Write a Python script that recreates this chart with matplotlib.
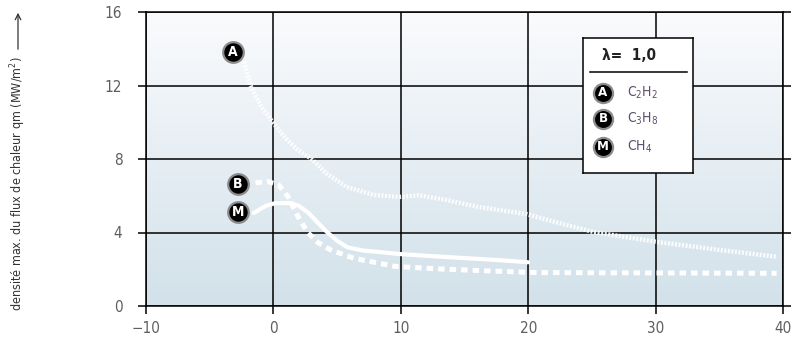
#!/usr/bin/env python3
"""Max heat flux density vs. x for C2H2, C3H8 and CH4 (lambda = 1,0)."""

import numpy as np
import matplotlib

matplotlib.use("Agg")
import matplotlib.pyplot as plt

plt.rcParams["font.family"] = ["DejaVu Sans"]
plt.rcParams["font.stretch"] = "condensed"
plt.rcParams["mathtext.default"] = "regular"

# data
x_ticks = [-10, 0, 10, 20, 30, 40]
y_ticks = [0, 4, 8, 12, 16]

a_x = [-2.3, -1.8, -1.0, 0.0, 1.0, 1.9, 2.9, 4.2, 5.7, 7.8, 9.8, 11.4, 13.4, 16.0, 19.9, 22.5, 25.1, 30.0, 35.0, 39.5]
a_y = [13.3, 12.0, 10.9, 9.95, 9.1, 8.5, 8.05, 7.2, 6.5, 6.05, 5.93, 6.02, 5.8, 5.4, 5.0, 4.5, 4.03, 3.5, 3.05, 2.68]

b_x = [-1.4, -0.5, 0.4, 1.15, 1.9, 2.7, 3.5, 4.5, 6.3, 9.6, 13.5, 17.3, 20.7, 30.0, 39.5]
b_y = [6.7, 6.78, 6.6, 5.95, 4.9, 4.0, 3.45, 3.05, 2.6, 2.15, 2.0, 1.9, 1.82, 1.8, 1.78]

m_x = [-1.55, -0.6, 0.15, 1.4, 2.0, 2.7, 3.4, 4.2, 5.0, 5.8, 7.0, 8.3, 9.85, 13.5, 17.6, 20.0]
m_y = [5.06, 5.45, 5.6, 5.6, 5.45, 5.1, 4.6, 4.03, 3.55, 3.2, 3.02, 2.94, 2.83, 2.67, 2.5, 2.38]

badge_letters = ["A", "B", "M"]
badge_x = [-3.2, -2.8, -2.8]
badge_y = [13.8, 6.64, 5.12]
legend_labels = [r"C$_2$H$_2$", r"C$_3$H$_8$", r"CH$_4$"]
lambda_label = "λ=  1,0"
y_label = "densité max. du flux de chaleur qm (MW/m$^2$)"

W, H = 795, 348
fig = plt.figure(figsize=(W / 100, H / 100), dpi=100)
fig.patch.set_facecolor("white")

ax_l, ax_r, ax_t, ax_b = 146, 783, 12, 306
ax = fig.add_axes([ax_l / W, 1 - ax_b / H, (ax_r - ax_l) / W, (ax_b - ax_t) / H])

# background gradient (white at top to pale blue at bottom)
top = np.array([250, 251, 253]) / 255
bottom = np.array([210, 225, 234]) / 255
t = np.linspace(0, 1, 256)[:, None]
grad = (top * (1 - t) + bottom * t)[:, None, :]
ax.imshow(grad, extent=(-10, 40, 0, 16), aspect="auto", zorder=0, origin="upper")
ax.set_xlim(-10, 40)
ax.set_ylim(0, 16)

ax.set_xticks(x_ticks)
ax.set_yticks(y_ticks)
ax.set_xticklabels([str(v).replace("-", "\u2212") for v in x_ticks])
ax.grid(True, color="black", linewidth=1.1, zorder=1)
for sp in ax.spines.values():
    sp.set_color("black")
    sp.set_linewidth(1.1)
ax.tick_params(axis="both", direction="out", length=6, width=1.1, colors="black",
               labelcolor="#5e5e5e", labelsize=11)
ax.tick_params(axis="y", pad=11, right=True)
ax.tick_params(axis="y", which="major", right=True, length=6)
ax.tick_params(axis="x", pad=5)

ax.plot(a_x, a_y, color="white", linewidth=3.2, linestyle=(0, (0.45, 0.35)),
        dash_capstyle="butt", zorder=3, alpha=0.9)
ax.plot(b_x, b_y, color="white", linewidth=3.6, linestyle=(0, (1.3, 1.0)),
        dash_capstyle="butt", zorder=3)
ax.plot(m_x, m_y, color="white", linewidth=3.0, solid_capstyle="round", zorder=3)


def badge(target, x, y, letter, size=220, fs=10):
    target.scatter([x], [y], s=size, c="black", edgecolors="#8c8c8c", linewidths=1.6,
                   zorder=5, clip_on=False)
    target.text(x, y, letter, color="white", fontsize=fs, fontweight="bold",
                ha="center", va="center", zorder=6)


for letter, bx, by in zip(badge_letters, badge_x, badge_y):
    badge(ax, bx, by, letter)

# legend box, drawn in its own axes with pixel coordinates
lx0, ly0, lx1, ly1 = 583, 38, 693, 173
lax = fig.add_axes([lx0 / W, 1 - ly1 / H, (lx1 - lx0) / W, (ly1 - ly0) / H])
lax.set_xlim(0, lx1 - lx0)
lax.set_ylim(ly1 - ly0, 0)
lax.set_facecolor("white")
lax.set_xticks([])
lax.set_yticks([])
for sp in lax.spines.values():
    sp.set_color("black")
    sp.set_linewidth(1.1)
lax.set_zorder(10)
lax.text(19, 18, lambda_label, fontsize=11, fontweight="bold", ha="left", va="center", color="#222222")
lax.plot([7, 104], [34, 34], color="black", linewidth=1.1)
for i, (letter, lab) in enumerate(zip(badge_letters, legend_labels)):
    yy = [55, 81, 109][i]
    badge(lax, 20, yy, letter, size=190, fs=9.5)
    lax.text(44, yy, lab, fontsize=10, color="#5b4d6b", ha="left", va="center")

# rotated y label with arrow
fig.text(18 / W, 1 - 184 / H, y_label, rotation=90, ha="center", va="center",
         fontsize=9, color="#333333")
fig.add_artist(matplotlib.patches.FancyArrowPatch(
    (18 / W, 1 - 52 / H), (18 / W, 1 - 10 / H), transform=fig.transFigure,
    arrowstyle="->", mutation_scale=10, linewidth=0.9, color="#333333"))

fig.savefig("out.png", dpi=100)
